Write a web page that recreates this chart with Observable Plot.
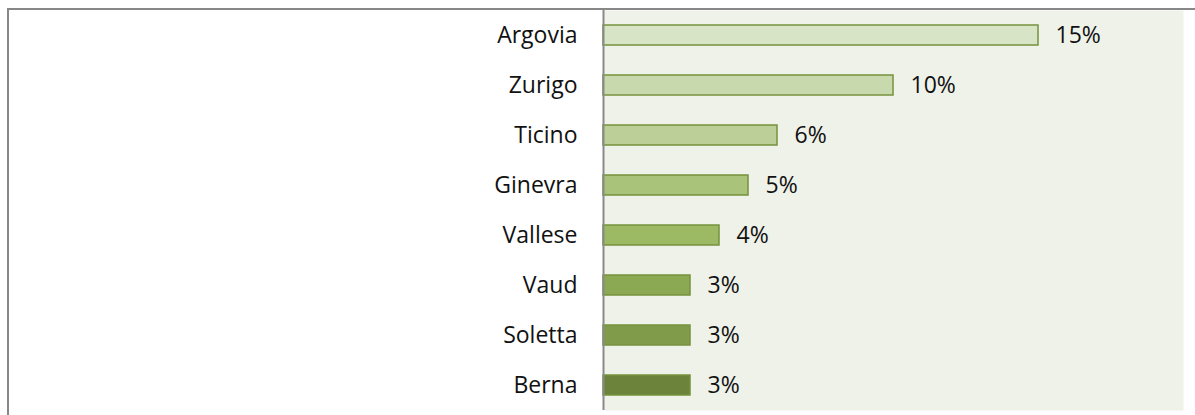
<!DOCTYPE html>
<html>
<head>
<meta charset="utf-8">
<script src="https://cdn.jsdelivr.net/npm/d3@7"></script>
<script src="https://cdn.jsdelivr.net/npm/@observablehq/plot@0.6"></script>
<style>
  html, body { margin: 0; padding: 0; background: #ffffff; }
  #wrap { position: relative; width: 1195px; height: 415px; overflow: hidden; }
  #border { position: absolute; left: 7px; top: 8px; right: -10px; bottom: -10px;
            border-top: 2px solid #878787; border-left: 2px solid #878787; }
  #chart { position: absolute; left: 0; top: 0; }
</style>
</head>
<body>
<div id="wrap"><div id="border"></div><div id="chart"></div></div>
<script>
const regions = ["Argovia", "Zurigo", "Ticino", "Ginevra", "Vallese", "Vaud", "Soletta", "Berna"];
const shares = [15, 10, 6, 5, 4, 3, 3, 3];
const fills = ["#d8e4c6", "#c9d9ae", "#bccf98", "#aac37a", "#9cb964", "#8ba852", "#809b49", "#6b833b"];
const labels = ["15%", "10%", "6%", "5%", "4%", "3%", "3%", "3%"];

const data = regions.map((r, i) => ({region: r, value: shares[i], fill: fills[i], label: labels[i]}));

const chart = Plot.plot({
  width: 1195,
  height: 415,
  marginLeft: 603,
  marginRight: 12,
  marginTop: 10,
  marginBottom: 5,
  style: {fontFamily: "'Open Sans', sans-serif", fontSize: "23px", color: "#111", background: "transparent"},
  x: {domain: [0, 20], axis: null},
  y: {domain: regions, paddingInner: 0.6, paddingOuter: 0.3, label: null},
  marks: [
    Plot.frame({fill: "#eff2e9", stroke: null}),
    Plot.barX(data, {y: "region", x: "value", fill: "fill", stroke: "#76923c", strokeWidth: 1.5}),
    Plot.text(data, {y: "region", x: "value", text: "label", textAnchor: "start", dx: 17, fill: "#111", fontSize: 23}),
    Plot.ruleX([0], {stroke: "#8a8a8a", strokeWidth: 2}),
    Plot.axisY({tickSize: 0, tickPadding: 26, fontSize: 23, label: null, fill: "#111"})
  ]
});
document.getElementById("chart").appendChild(chart);
</script>
</body>
</html>
